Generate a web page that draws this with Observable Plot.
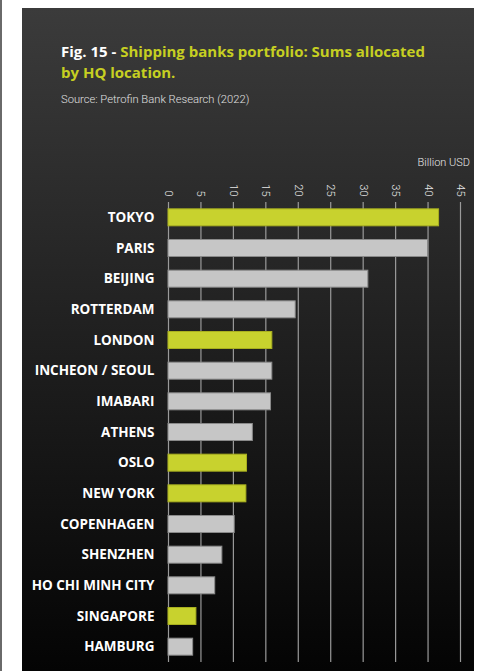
<!DOCTYPE html>
<html><head><meta charset="utf-8">
<script src="https://cdn.jsdelivr.net/npm/d3@7"></script>
<script src="https://cdn.jsdelivr.net/npm/@observablehq/plot@0.6"></script>
<style>
html,body{margin:0;padding:0;background:#fff;width:490px;height:671px;overflow:hidden;font-family:"Open Sans",sans-serif;}
#edge{position:absolute;left:0;top:0;width:2px;height:671px;background:#6a6a6a;}
#panel{position:absolute;left:22px;top:8px;width:452px;height:663px;background:linear-gradient(#3b3b3b,#040404);}
#title{position:absolute;left:61px;top:41px;width:410px;font-weight:700;font-size:15px;line-height:21px;color:#c6cf22;white-space:nowrap;}
#title .w{color:#fff;}
#src{position:absolute;left:61px;top:93px;font-family:Roboto,sans-serif;font-weight:300;font-size:11.2px;color:#e0e0e0;}
#unit{position:absolute;right:20px;top:156px;font-family:Roboto,sans-serif;font-weight:300;font-size:11px;color:#e8e8e8;}
#chart{position:absolute;left:0;top:170px;}
</style></head>
<body>
<div id="edge"></div>
<div id="panel"></div>
<div id="title"><span class="w">Fig. 15 - </span><span>Shipping banks portfolio: Sums allocated</span><br><span>by HQ location.</span></div>
<div id="src">Source: Petrofin Bank Research (2022)</div>
<div id="unit">Billion USD</div>
<div id="chart"></div>
<script>
const cities = ["TOKYO","PARIS","BEIJING","ROTTERDAM","LONDON","INCHEON / SEOUL","IMABARI","ATHENS","OSLO","NEW YORK","COPENHAGEN","SHENZHEN","HO CHI MINH CITY","SINGAPORE","HAMBURG"];
const values = [41.7, 40.0, 30.8, 19.6, 16.0, 16.0, 15.8, 13.0, 12.1, 12.0, 10.2, 8.3, 7.2, 4.3, 3.8];
const highlighted = ["TOKYO","LONDON","OSLO","NEW YORK","SINGAPORE"];
const xTicks = [0,5,10,15,20,25,30,35,40,45];

const data = cities.map((c,i)=>({city:c, value:values[i], hl:highlighted.includes(c)}));

const chart = Plot.plot({
  width: 490, height: 501,
  marginLeft: 168, marginRight: 30, marginTop: 32, marginBottom: 9,
  style: {background: "transparent", fontFamily: "Open Sans, sans-serif", overflow: "visible"},
  x: {domain: [0,45], axis: null},
  y: {domain: cities, paddingInner: 0.446, paddingOuter: 0.223, round: false, axis: null},
  marks: [
    Plot.ruleX(xTicks, {stroke: "#9a9a9a", strokeWidth: 1.2}),
    Plot.axisX(xTicks, {anchor: "top", tickSize: 0, tickPadding: 6, tickRotate: 90, fill: "#e8e8e8", fontSize: 11, fontFamily: "Roboto, sans-serif", fontWeight: 300, label: null}),
    Plot.barX(data, {y: "city", x: "value", fill: d => d.hl ? "#c8d22e" : "#c6c6c6", stroke: d => d.hl ? "#a9b020" : "#8a8a8a", strokeWidth: 1}),
    Plot.axisY({tickSize: 0, tickPadding: 14, fill: "#ffffff", fontSize: 13.5, fontWeight: 700, label: null})
  ]
});
document.getElementById("chart").appendChild(chart);
</script>
</body></html>
